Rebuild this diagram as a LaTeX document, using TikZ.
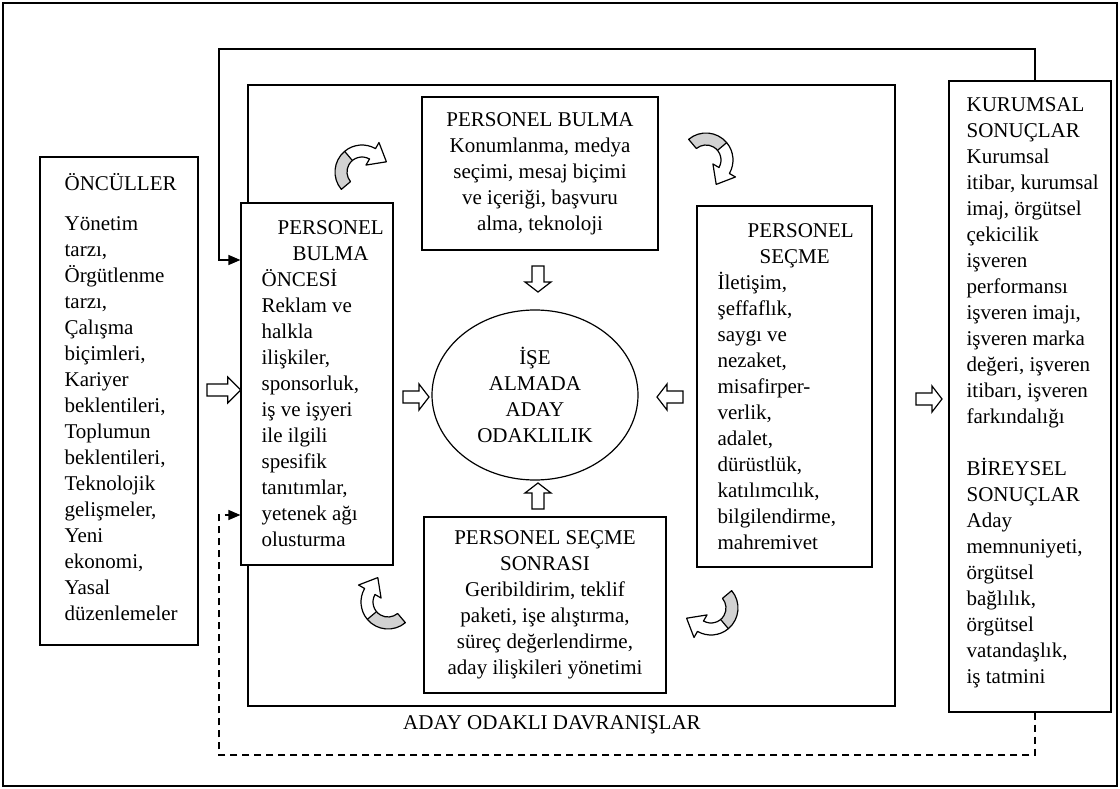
\documentclass[tikz,border=0pt]{standalone}
\usepackage{fontspec}
\setmainfont{Liberation Serif}
\usetikzlibrary{shapes.geometric,arrows.meta}

\begin{document}
\begin{tikzpicture}
[x=1pt,y=-1pt,
  boxDecorate/.style={draw,line width=1.2pt,fill=white,inner sep=0pt},
  textDecorate/.style={font=\fontsize{21pt}{26pt}\selectfont,inner sep=0pt},
  lineDecorate/.style={line width=1.3pt,-{Triangle[length=12pt,width=10pt]}},
  blockArrow/.pic={
    \draw[line width=1.2pt,fill=white] (0,-6) -- (16,-6) -- (16,-13) -- (26,0)
      -- (16,13) -- (16,6) -- (0,6) -- cycle;},
  curvedArrow/.pic={
    \begin{scope}[y=1pt,line width=1.2pt,line join=round]
    \fill[white] (220:27) arc[start angle=220,end angle=60,radius=27] -- (60:34)
      -- (24.4,10.2) -- (60:8) -- (60:15) arc[start angle=60,end angle=220,radius=15] -- cycle;
    \fill[gray!35] (220:27) arc[start angle=220,end angle=130,radius=27]
      -- (130:15) arc[start angle=130,end angle=220,radius=15] -- cycle;
    \draw (220:27) arc[start angle=220,end angle=60,radius=27] -- (60:34)
      -- (24.4,10.2) -- (60:8) -- (60:15) arc[start angle=60,end angle=220,radius=15] -- cycle;
    \draw (130:27) -- (130:15);
    \end{scope}}]
\useasboundingbox (0,0) rectangle (1120,789);
\draw[line width=2.4pt] (3,3) rectangle (1117,786);

%% boxes
\node (davranis) at (571.5,395.5) [boxDecorate,minimum width=647,minimum height=621] {};
\node (davranisEtiket) at (552,725) [textDecorate] {ADAY ODAKLI DAVRANIŞLAR};
\node (onculler) at (119,401) [boxDecorate,minimum width=158,minimum height=488] {};
\node at ([xshift=25pt,yshift=4pt]onculler.west) [textDecorate,anchor=west,align=left]
  {ÖNCÜLLER\\[14pt]
   Yönetim\\ tarzı,\\ Örgütlenme\\ tarzı,\\ Çalışma\\ biçimleri,\\ Kariyer\\
   beklentileri,\\ Toplumun\\ beklentileri,\\ Teknolojik\\ gelişmeler,\\ Yeni\\
   ekonomi,\\ Yasal\\ düzenlemeler};
\node (oncesi) at (317,384) [boxDecorate,minimum width=152,minimum height=362] {};
\node at ([xshift=21pt]oncesi.west) [textDecorate,anchor=west,align=left]
  {\hspace*{16pt}PERSONEL\\ \hspace*{31pt}BULMA\\ ÖNCESİ\\ Reklam ve\\ halkla\\
   ilişkiler,\\ sponsorluk,\\ iş ve işyeri\\ ile ilgili\\ spesifik\\ tanıtımlar,\\
   yetenek ağı\\ olusturma};
\node (bulma) at (540,173.5) [boxDecorate,textDecorate,align=center,
  minimum width=236,minimum height=153]
  {PERSONEL BULMA\\ Konumlanma, medya\\ seçimi, mesaj biçimi\\ ve içeriği, başvuru\\
   alma, teknoloji};
\node (secme) at (784.5,386.5) [boxDecorate,minimum width=175,minimum height=361] {};
\node at ([xshift=21pt]secme.west) [textDecorate,anchor=west,align=left]
  {\hspace*{30pt}PERSONEL\\ \hspace*{42pt}SEÇME\\ İletişim,\\ şeffaflık,\\ saygı ve\\
   nezaket,\\ misafirper-\\ verlik,\\ adalet,\\ dürüstlük,\\ katılımcılık,\\
   bilgilendirme,\\ mahremivet};
\node (sonrasi) at (545,605) [boxDecorate,textDecorate,align=center,
  minimum width=242,minimum height=176]
  {PERSONEL SEÇME\\ SONRASI\\ Geribildirim, teklif\\ paketi, işe alıştırma,\\
   süreç değerlendirme,\\ aday ilişkileri yönetimi};
\node (odak) at (535,395) [ellipse,draw,line width=1.2pt,textDecorate,align=center,
  minimum width=206,minimum height=170]
  {İŞE\\ ALMADA\\ ADAY\\ ODAKLILIK};
\node (sonuclar) at (1030,396.5) [boxDecorate,minimum width=162,minimum height=631] {};
\node at ([xshift=18pt,yshift=4pt]sonuclar.west) [textDecorate,anchor=west,align=left]
  {KURUMSAL\\ SONUÇLAR\\ Kurumsal\\ itibar, kurumsal\\ imaj, örgütsel\\ çekicilik\\
   işveren\\ performansı\\ işveren imajı,\\ işveren marka\\ değeri, işveren\\
   itibarı, işveren\\ farkındalığı\\[26pt]
   BİREYSEL\\ SONUÇLAR\\ Aday\\ memnuniyeti,\\ örgütsel\\ bağlılık,\\ örgütsel\\
   vatandaşlık,\\ iş tatmini};

%% block arrows
\foreach \x/\y/\r/\s in {
  207/390/0/1.3, 403/397/0/1, 683/397/180/1,
  538/266/-90/1, 538/509/90/1, 916/399/0/1}
{
  \pic[rotate=\r,xscale=\s] at (\x,\y) {blockArrow};
}
%% curved arrows
\foreach \x/\y/\r in {362/172/0, 706/160/-90, 711/608/180, 388/602/90}
{
  \pic[rotate=\r] at (\x,\y) {curvedArrow};
}

%% feedback lines
\coordinate (topRight) at (1035,49);
\coordinate (topLeft) at (219,49);
\coordinate (inTop) at (219,260);
\draw[lineDecorate] (sonuclar.north -| topRight) -- (topRight) -- (topLeft)
  -- (inTop) -- (inTop -| oncesi.west);
\coordinate (bottomRight) at (1035,755);
\coordinate (bottomLeft) at (219,755);
\coordinate (inBottom) at (219,515);
\draw[lineDecorate,dash pattern=on 7pt off 5pt] (sonuclar.south -| bottomRight)
  -- (bottomRight) -- (bottomLeft) -- (inBottom) -- (inBottom -| oncesi.west);
\end{tikzpicture}
\end{document}
